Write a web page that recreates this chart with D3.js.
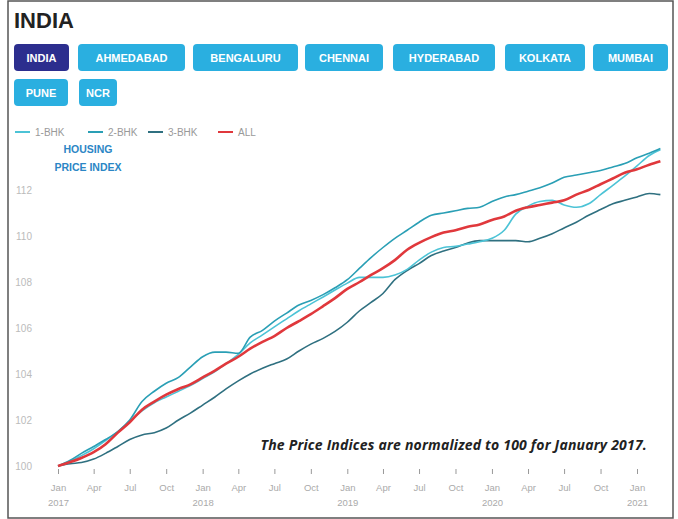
<!DOCTYPE html>
<html>
<head>
<meta charset="utf-8">
<script src="https://cdn.jsdelivr.net/npm/d3@7"></script>
<style>
  body { margin: 0; background: #fff; }
  svg { display: block; font-family: "Liberation Sans", Arial, sans-serif; }
</style>
</head>
<body>
<script>
// Housing price index, India, monthly Jan 2017 - Mar 2021

var cities = ["INDIA", "AHMEDABAD", "BENGALURU", "CHENNAI", "HYDERABAD", "KOLKATA", "MUMBAI", "PUNE", "NCR"];
var seriesNames = ["1-BHK", "2-BHK", "3-BHK", "ALL"];
var yTicks = [100, 102, 104, 106, 108, 110, 112];

var bhk1 = [100.0, 100.2, 100.45, 100.75, 101.1, 101.5, 101.95, 102.4, 102.75, 103.0, 103.25, 103.5,
  103.8, 104.1, 104.45, 104.85, 105.35, 105.7, 106.05, 106.4, 106.75, 107.05, 107.35, 107.65,
  107.95, 108.2, 108.2, 108.2, 108.3, 108.55, 108.95, 109.3, 109.5, 109.55, 109.65, 109.75,
  109.9, 110.25, 110.95, 111.3, 111.5, 111.55, 111.35, 111.25, 111.4, 111.8, 112.2, 112.6,
  113.05, 113.5, 113.75];
var bhk2 = [100.0, 100.25, 100.55, 100.85, 101.15, 101.5, 102.0, 102.8, 103.25, 103.6, 103.85, 104.3,
  104.75, 104.95, 104.95, 104.9, 105.6, 105.9, 106.3, 106.65, 107.0, 107.2, 107.45, 107.75,
  108.1, 108.6, 109.05, 109.5, 109.9, 110.25, 110.6, 110.9, 111.0, 111.1, 111.2, 111.25,
  111.5, 111.7, 111.8, 111.95, 112.1, 112.3, 112.55, 112.65, 112.75, 112.85, 113.0, 113.15,
  113.4, 113.6, 113.8];
var bhk3 = [100.0, 100.1, 100.15, 100.3, 100.55, 100.85, 101.15, 101.35, 101.45, 101.65, 102.0, 102.3,
  102.65, 103.0, 103.35, 103.7, 104.0, 104.25, 104.45, 104.65, 105.0, 105.3, 105.55, 105.85,
  106.25, 106.75, 107.1, 107.5, 108.1, 108.5, 108.8, 109.15, 109.35, 109.5, 109.7, 109.8,
  109.8, 109.8, 109.8, 109.75, 109.9, 110.1, 110.35, 110.6, 110.9, 111.15, 111.4, 111.55,
  111.7, 111.85, 111.8];
var all = [100.0, 100.17, 100.35, 100.6, 100.95, 101.45, 101.9, 102.45, 102.8, 103.1, 103.35, 103.55,
  103.85, 104.15, 104.45, 104.75, 105.1, 105.4, 105.65, 106.0, 106.3, 106.6, 106.95, 107.3,
  107.7, 108.0, 108.3, 108.6, 108.95, 109.4, 109.7, 109.95, 110.15, 110.25, 110.4, 110.5,
  110.7, 110.85, 111.1, 111.25, 111.35, 111.45, 111.55, 111.8, 112.0, 112.25, 112.5, 112.75,
  112.9, 113.1, 113.25];

var width = 678;
var height = 519;

var svg = d3.select("body").append("svg")
    .attr("width", width)
    .attr("height", height);

// frame
svg.append("rect")
    .attr("x", 8).attr("y", 1)
    .attr("width", 665).attr("height", 517)
    .attr("fill", "#fff")
    .attr("stroke", "#555")
    .attr("stroke-width", 1.5);

svg.append("text")
    .text("INDIA")
    .attr("x", 14).attr("y", 28)
    .style("font-family", "'Liberation Sans', Arial, sans-serif")
    .style("font-weight", "bold")
    .style("font-size", "22px")
    .attr("fill", "#222");

// city buttons
var btnX = [14, 78, 193, 305, 393, 505, 593, 14, 79];
var btnW = [55, 107, 105, 78, 102, 80, 75, 54, 38];
var btnY = [44, 44, 44, 44, 44, 44, 44, 79, 79];
var btns = svg.selectAll("g.btn").data(cities).enter().append("g").attr("class", "btn");
btns.append("rect")
    .attr("x", function(d, i) { return btnX[i]; })
    .attr("y", function(d, i) { return btnY[i]; })
    .attr("width", function(d, i) { return btnW[i]; })
    .attr("height", 27)
    .attr("rx", 4)
    .attr("fill", function(d, i) { return i == 0 ? "#2c2e8e" : "#2aafe0"; });
btns.append("text")
    .text(function(d) { return d; })
    .attr("x", function(d, i) { return btnX[i] + btnW[i] / 2; })
    .attr("y", function(d, i) { return btnY[i] + 18; })
    .attr("text-anchor", "middle")
    .style("font-weight", "bold")
    .style("font-size", "11px")
    .attr("fill", "#fff");

// scales
var months = d3.range(all.length).map(function(i) { return new Date(2017, i, 1); });
var x = d3.scaleTime()
    .domain([new Date(2017, 0, 1), new Date(2021, 0, 1)])
    .range([58, 637]);
var y = d3.scaleLinear()
    .domain([100, 112])
    .range([466, 190]);

var colors = ["#4cc3d6", "#2a9fb5", "#2f7080", "#e0383c"];
var widths = [1.6, 1.6, 1.6, 2.6];

// legend
var legX = [15, 88, 148, 218];
seriesNames.forEach(function(name, i) {
    svg.append("line")
        .attr("x1", legX[i]).attr("x2", legX[i] + 15)
        .attr("y1", 132).attr("y2", 132)
        .attr("stroke", colors[i])
        .attr("stroke-width", 2);
    svg.append("text")
        .text(name)
        .attr("x", legX[i] + 20).attr("y", 136)
        .style("font-size", "10px")
        .attr("fill", "#999");
});
svg.append("text").text("HOUSING")
    .attr("x", 88).attr("y", 153)
    .attr("text-anchor", "middle")
    .style("font-size", "10.5px").style("font-weight", "bold")
    .attr("fill", "#2b86c5");
svg.append("text").text("PRICE INDEX")
    .attr("x", 88).attr("y", 171)
    .attr("text-anchor", "middle")
    .style("font-size", "10.5px").style("font-weight", "bold")
    .attr("fill", "#2b86c5");

// y axis
var yAxis = svg.append("g")
    .attr("transform", "translate(36,0)")
    .call(d3.axisLeft(y).tickValues(yTicks).tickSize(0).tickPadding(4));
yAxis.select(".domain").remove();
yAxis.selectAll("text")
    .style("font-size", "10px")
    .style("font-family", "'Liberation Sans', Arial, sans-serif")
    .attr("fill", "#bbb");

// x axis
var xTicks = d3.range(0, 49, 3).map(function(i) { return new Date(2017, i, 1); });
var xAxis = svg.append("g")
    .attr("transform", "translate(0,469)")
    .call(d3.axisBottom(x).tickValues(xTicks).tickSize(5).tickPadding(10)
        .tickFormat(d3.timeFormat("%b")));
xAxis.select(".domain").remove();
xAxis.selectAll("line").attr("stroke", "#999");
xAxis.selectAll("text")
    .style("font-size", "9.5px")
    .style("font-family", "'Liberation Sans', Arial, sans-serif")
    .attr("fill", "#aaa");
xAxis.selectAll(".tick").filter(function(d) { return d.getMonth() == 0; })
    .append("text")
    .text(function(d) { return d.getFullYear(); })
    .attr("y", 37)
    .attr("text-anchor", "middle")
    .style("font-size", "9.5px")
    .attr("fill", "#aaa");

// lines
var line = d3.line()
    .x(function(d, i) { return x(months[i]); })
    .y(function(d) { return y(d); })
    .curve(d3.curveMonotoneX);

[bhk3, bhk1, bhk2, all].forEach(function(s, k) {
    var idx = [2, 0, 1, 3][k];
    svg.append("path")
        .attr("d", line(s))
        .attr("fill", "none")
        .attr("stroke", colors[idx])
        .attr("stroke-width", widths[idx]);
});

svg.append("text")
    .text("The Price Indices are normalized to 100 for January 2017.")
    .attr("x", 647).attr("y", 450)
    .attr("text-anchor", "end")
    .style("font-family", "'Open Sans', sans-serif")
    .style("font-size", "14px")
    .style("font-weight", "bold")
    .style("font-style", "italic")
    .style("letter-spacing", "0.2px")
    .attr("fill", "#222");
</script>
</body>
</html>
